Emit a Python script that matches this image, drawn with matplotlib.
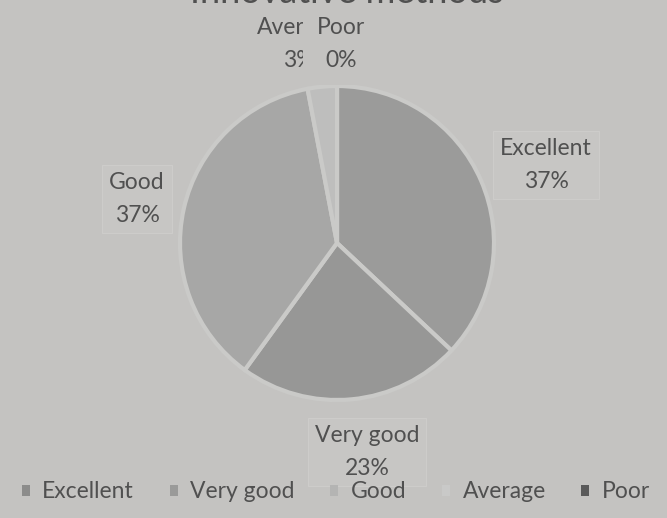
import matplotlib
matplotlib.use('Agg')
import matplotlib.pyplot as plt
from matplotlib.patches import Patch

# ── Survey data ──────────────────────────────────────────────────────────────
categories = ['Excellent', 'Very good', 'Good', 'Average', 'Poor']
percents   = [37, 23, 37, 3, 0]
title      = 'Innovative methods'

slice_colors  = ['#9b9b9a', '#979796', '#a7a7a6', '#bebebd', '#6a6a6a']
legend_colors = ['#8c8c8b', '#9a9a99', '#b4b4b3', '#c9c9c8', '#5a5a5a']

BG     = '#c4c3c1'
TEXT   = '#505050'
W, H   = 667, 518

plt.rcParams['font.family'] = ['Lato', 'DejaVu Sans']

fig = plt.figure(figsize=(W / 100, H / 100), dpi=100, facecolor=BG)
ax = fig.add_axes([0, 0, 1, 1])
ax.set_facecolor(BG)

def yy(y):
    # image-style y (from top) to data y
    return H - y

ax.pie(percents, startangle=90, counterclock=False,
       center=(337, yy(243)), radius=157, colors=slice_colors,
       wedgeprops=dict(edgecolor='#cacac8', linewidth=3))
ax.set_xlim(0, W)
ax.set_ylim(0, H)
ax.set_aspect('equal')
ax.axis('off')

# title, clipped by the top edge
ax.text(347, yy(3), title, ha='center', va='baseline', fontsize=26, color=TEXT)

# data labels
box = dict(boxstyle='square,pad=0.3', facecolor='#c7c6c4', edgecolor='#cdccca', linewidth=0.8)
label_pos = {
    'Excellent': (546, 165),
    'Very good': (367, 452),
    'Good':      (137, 199),
    'Average':   (299, 44),
    'Poor':      (341, 44),
}
for name, pct in zip(categories, percents):
    x, y = label_pos[name]
    kw = dict(ha='center', va='center', fontsize=16.5, color=TEXT, linespacing=1.75)
    if name == 'Poor':
        # Poor's label sits on top of Average's and hides part of it
        kw['bbox'] = dict(boxstyle='square,pad=0.6', facecolor=BG, edgecolor='none')
        kw['zorder'] = 5
    elif name != 'Average':
        kw['bbox'] = box
    ax.text(x, yy(y), f'{name}\n{pct}%', **kw)

handles = [Patch(facecolor=c, edgecolor='none') for c in legend_colors]
leg = fig.legend(handles, categories, loc='center', bbox_to_anchor=(336 / W, 1 - 492 / H),
                 ncol=5, frameon=False, fontsize=16.5, handlelength=0.35, handleheight=0.35,
                 handletextpad=0.55, columnspacing=1.55)
for t in leg.get_texts():
    t.set_color(TEXT)

fig.savefig('out.png', dpi=100, facecolor=BG)
